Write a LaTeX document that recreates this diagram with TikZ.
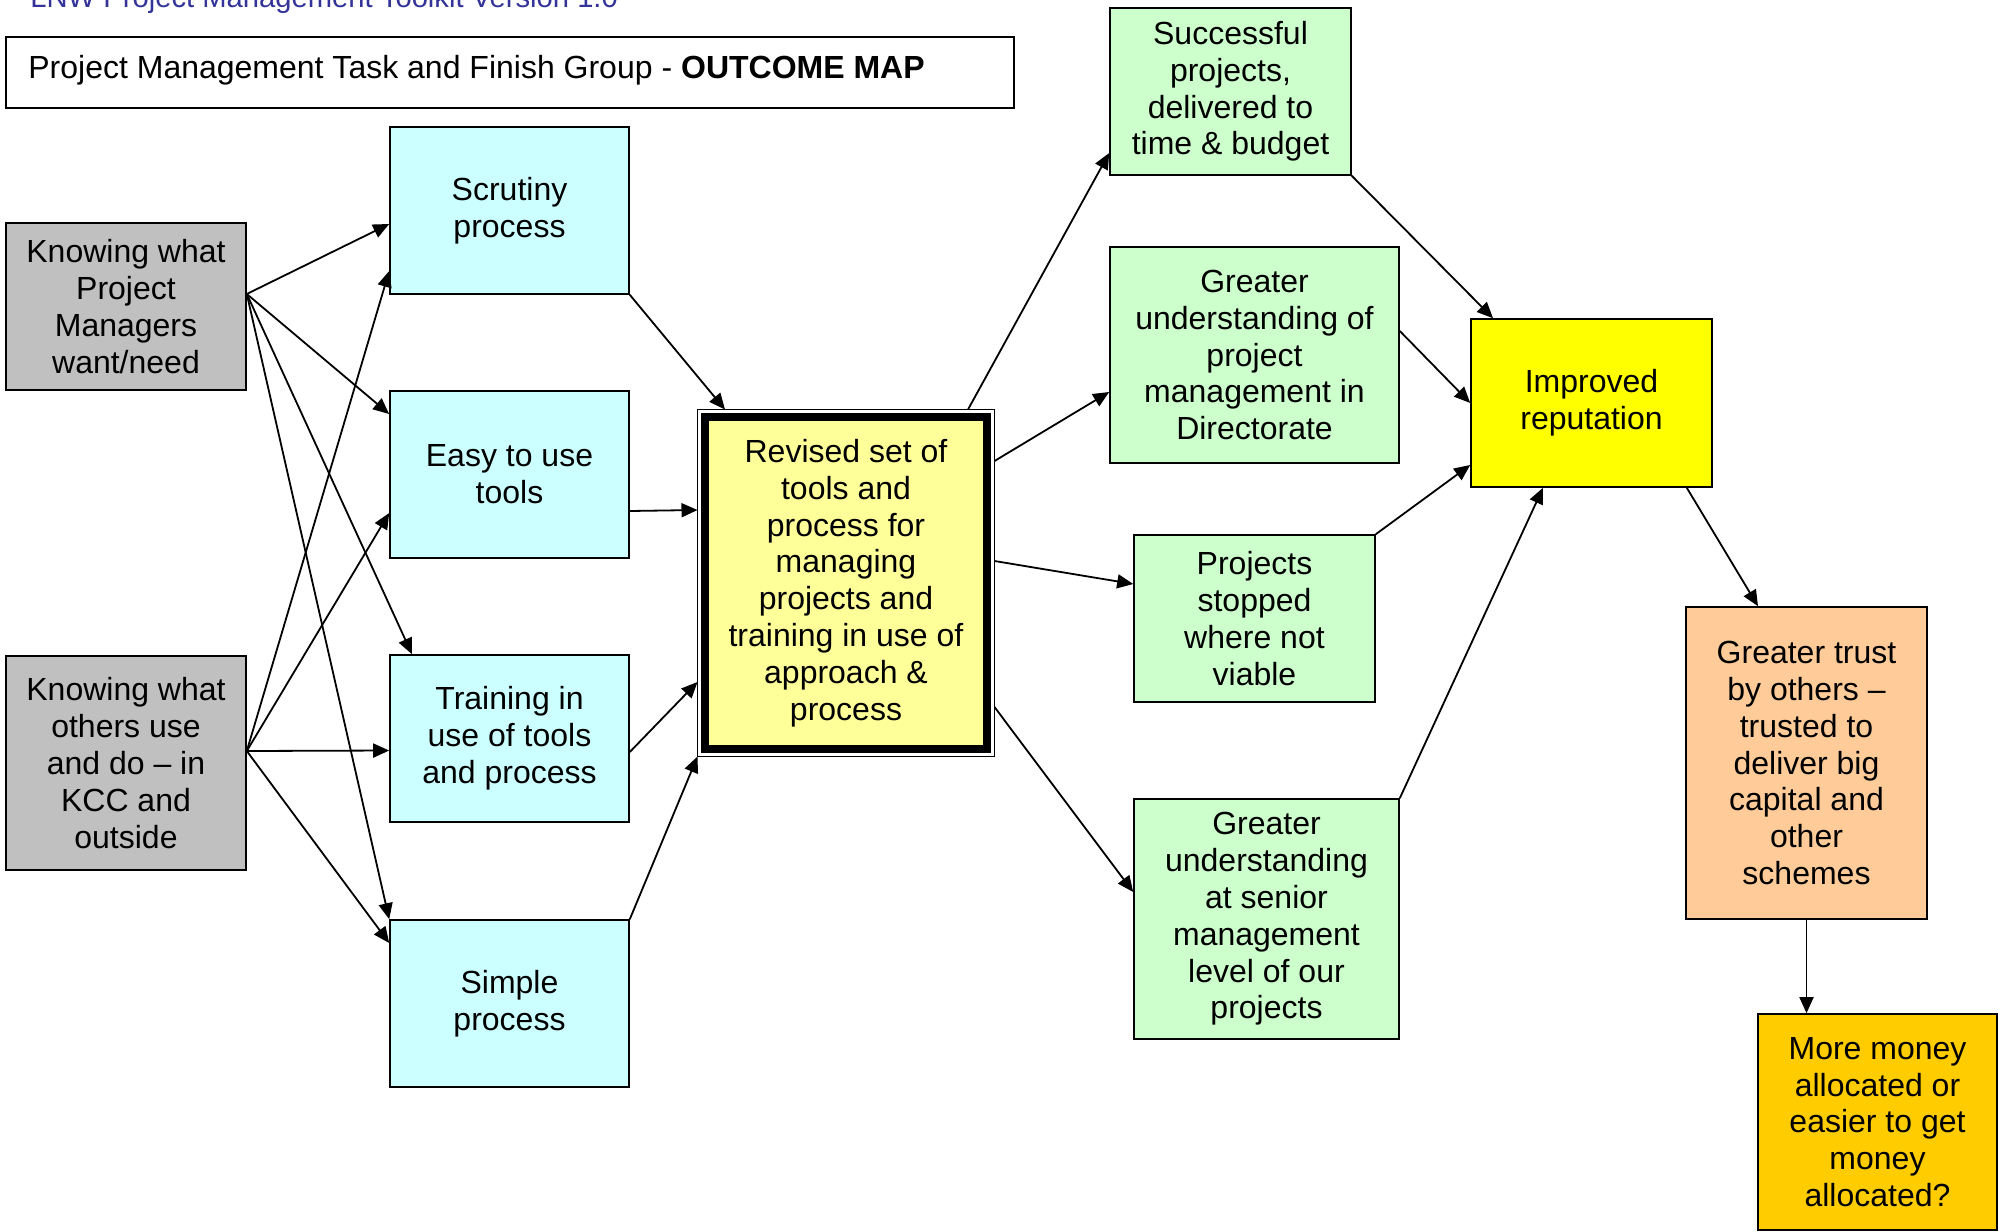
\documentclass[tikz,border=0pt]{standalone}
\usepackage{fontspec}
\setmainfont{Liberation Sans}
\usetikzlibrary{arrows.meta,calc}

\definecolor{inputgrey}{HTML}{C0C0C0}
\definecolor{activitycyan}{HTML}{CCFFFF}
\definecolor{outputyellow}{HTML}{FFFF99}
\definecolor{outcomegreen}{HTML}{CCFFCC}
\definecolor{repyellow}{HTML}{FFFF00}
\definecolor{trustorange}{HTML}{FFCC99}
\definecolor{moneygold}{HTML}{FFCC00}
\definecolor{headerblue}{HTML}{333399}

\begin{document}
\begin{tikzpicture}[
  x=0.5pt, y=-0.5pt,
  txt/.style={font=\fontsize{16}{18.4}\selectfont},
  box/.style={draw=black, line width=0.8pt, align=center, inner sep=2pt, txt},
  sz/.style 2 args={minimum width=#1*0.5pt, minimum height=#2*0.5pt},
  arr/.style={-{Triangle[length=8pt,width=7pt]}, line width=0.9pt},
]
\useasboundingbox (0,0) rectangle (1998,1232);

% header and title
\node[anchor=base west, inner sep=0, text=headerblue,
      font=\fontsize{14.6}{17}\selectfont] (header) at (30,7)
  {LNW Project Management Toolkit Version 1.0};
\node[draw=black, line width=0.8pt, sz={1008}{71}] (title) at (510,72.5) {};
\node[anchor=base west, inner sep=0, txt] (titletext) at (28,78)
  {Project Management Task and Finish Group - \textbf{OUTCOME MAP}};

% inputs
\node[box, fill=inputgrey, sz={240}{167}] (grey1) at (126,306.5)
  {Knowing what\\Project\\Managers\\want/need};
\node[box, fill=inputgrey, sz={240}{214}] (grey2) at (126,763)
  {Knowing what\\others use\\and do -- in\\KCC and\\outside};

% activities
\node[box, fill=activitycyan, sz={239}{167}] (scr) at (509.5,210.5)
  {Scrutiny\\process};
\node[box, fill=activitycyan, sz={239}{167}] (easy) at (509.5,474.5)
  {Easy to use\\tools};
\node[box, fill=activitycyan, sz={239}{167}] (train) at (509.5,738.5)
  {Training in\\use of tools\\and process};
\node[box, fill=activitycyan, sz={239}{167}] (simple) at (509.5,1003.5)
  {Simple\\process};

% central output with thick-thin border
\node[box, fill=outputyellow, line width=4pt, outer sep=3.75pt, sz={282}{332}]
  (central) at (846,583)
  {Revised set of\\tools and\\process for\\managing\\projects and\\training in use of\\approach \&\\process};
\draw[line width=0.8pt] (central.north west) rectangle (central.south east);

% outcomes
\node[box, fill=outcomegreen, sz={241}{167}] (succ) at (1230.5,91.5)
  {Successful\\projects,\\delivered to\\time \& budget};
\node[box, fill=outcomegreen, sz={289}{216}] (gpm) at (1254.5,355)
  {Greater\\understanding of\\project\\management in\\Directorate};
\node[box, fill=outcomegreen, sz={241}{167}] (stop) at (1254.5,618.5)
  {Projects\\stopped\\where not\\viable};
\node[box, fill=outcomegreen, sz={265}{240}] (senior) at (1266.5,919)
  {Greater\\understanding\\at senior\\management\\level of our\\projects};

\node[box, fill=repyellow, sz={241}{168}] (rep) at (1591.5,403)
  {Improved\\reputation};
\node[box, fill=trustorange, sz={241}{312}] (trust) at (1806.5,763)
  {Greater trust\\by others --\\trusted to\\deliver big\\capital and\\other\\schemes};
\node[box, fill=moneygold, sz={239}{216}] (money) at (1877.5,1122)
  {More money\\allocated or\\easier to get\\money\\allocated?};

% connector start points
\coordinate (g1o) at ([yshift=6.25pt]grey1.east);
\coordinate (g2o) at ([yshift=6pt]grey2.east);

% inputs to activities
\draw[arr] (g1o) -- ([yshift=-6.75pt]scr.west);
\draw[arr] (g1o) -- ([yshift=30.25pt]easy.west);
\draw[arr] (g1o) -- ([xshift=-48.75pt]train.north);
\draw[arr] (g1o) -- (simple.north west);
\draw[arr] (g2o) -- ([yshift=-30.25pt]scr.west);
\draw[arr] (g2o) -- ([yshift=-19.25pt]easy.west);
\draw[arr] (g2o) -- ([yshift=-6pt]train.west);
\draw[arr] (g2o) -- ([yshift=30.25pt]simple.west);

% activities to central output
\draw[arr] (scr.south east) -- ([xshift=-60.5pt]central.north);
\draw[arr] ([yshift=-18.25pt]easy.east) -- ([yshift=36.5pt]central.west);
\draw[arr] ([yshift=-6.75pt]train.east) -- ([yshift=-49.5pt]central.west);
\draw[arr] (simple.north east) -- (central.south west);

% central output to outcomes
\draw[arr] ([xshift=61pt]central.north) -- ([yshift=-30.75pt]succ.west);
\draw[arr] ([yshift=61pt]central.east) -- ([yshift=-18.5pt]gpm.west);
\draw[arr] ([yshift=11pt]central.east) -- ([yshift=17.25pt]stop.west);
\draw[arr] ([yshift=-62pt]central.east) -- ([yshift=13.5pt]senior.west);

% outcomes to reputation
\draw[arr] (succ.south east) -- ([xshift=-49.25pt]rep.north);
\draw[arr] ([yshift=12pt]gpm.east) -- (rep.west);
\draw[arr] (stop.north east) -- ([yshift=-31pt]rep.west);
\draw[arr] (senior.north east) -- ([xshift=-24.25pt]rep.south);

% longer-term outcomes
\draw[arr] ([xshift=-13pt]rep.south east) -- ([xshift=-24.25pt]trust.north);
\draw[arr] (trust.south) -- ([xshift=-35.5pt]money.north);
\end{tikzpicture}
\end{document}
